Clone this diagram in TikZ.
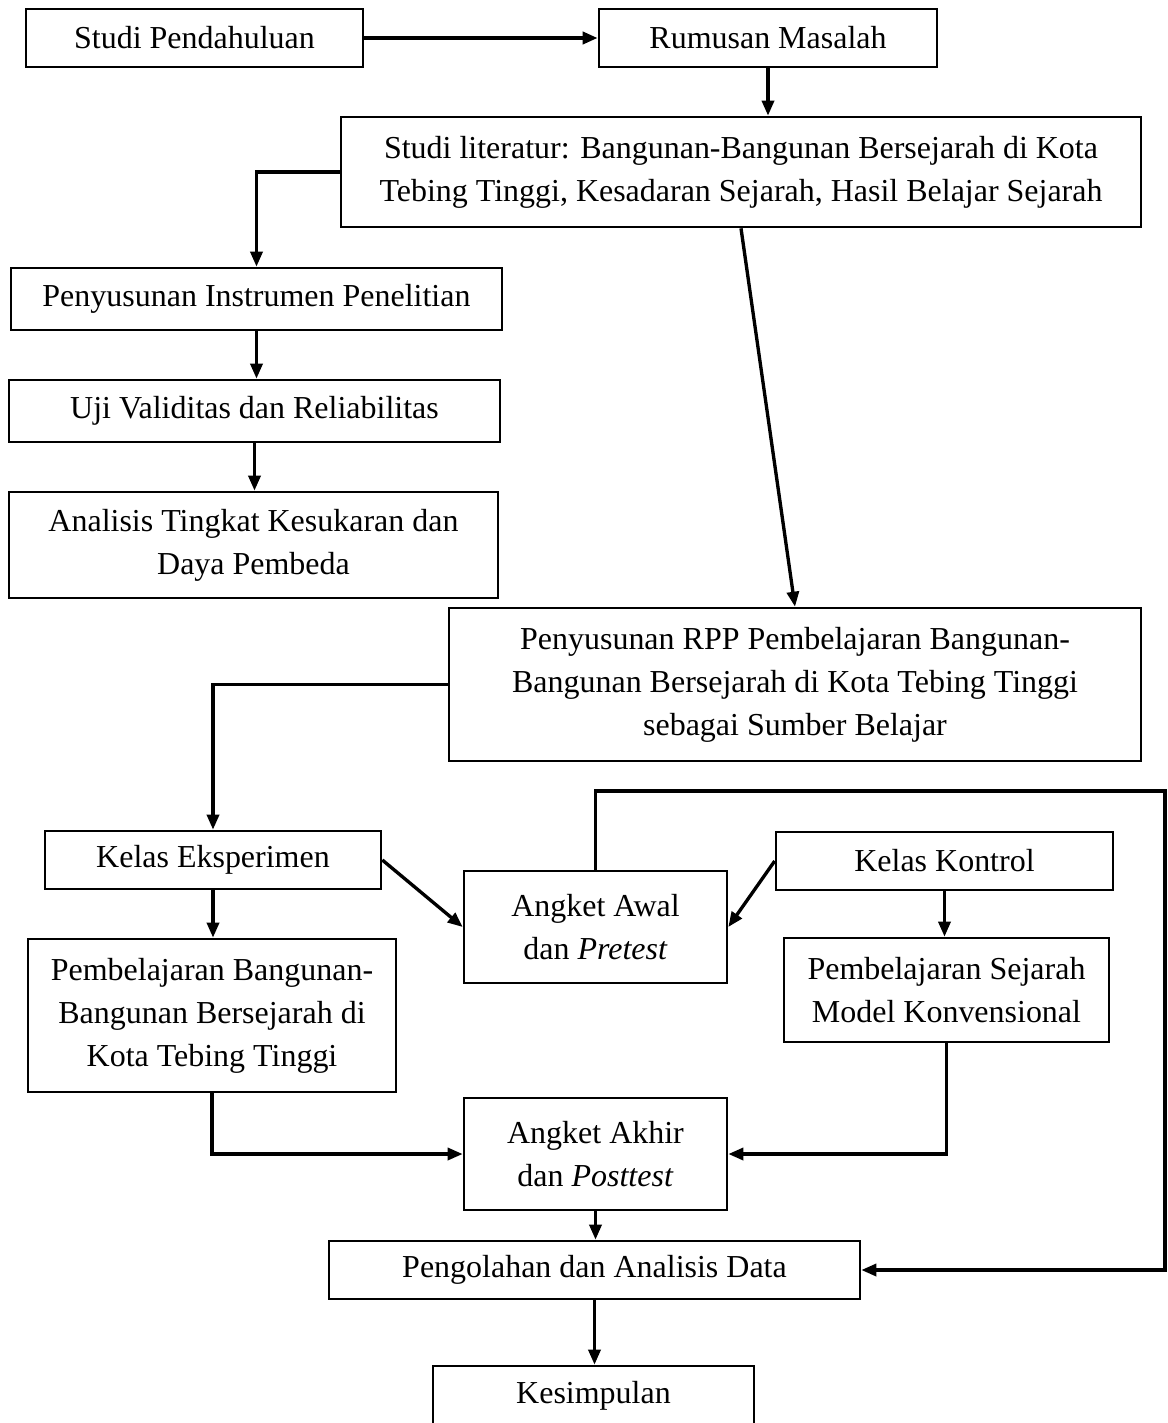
\documentclass[tikz,border=0pt]{standalone}
\usepackage{fontspec}
\setmainfont{Liberation Serif}
\usetikzlibrary{arrows.meta}

\begin{document}
\begin{tikzpicture}[x=0.02cm, y=-0.02cm,
  box/.style={shape=rectangle, draw=black, fill=white, line width=1.5pt,
    inner sep=0pt, align=center, font=\fontsize{18.2}{24.5}\selectfont},
  wh/.style 2 args={minimum width=#1*0.02cm, minimum height=#2*0.02cm},
  arr/.style={-{Triangle[length=0.3cm, width=0.24cm]}, line width=1.9pt},
  ]
        % alur penelitian
\useasboundingbox (0, 0) rectangle (1168, 1423);

\node[box, wh={337}{58}] at (194.5, 38)
(sp) {Studi Pendahuluan};

\node[box, wh={338}{58}] at (768, 38)
(rm) {Rumusan Masalah};

\node[box, wh={800}{110}] at (741, 172)
(sl) {Studi literatur: Bangunan-Bangunan Bersejarah di Kota\\Tebing Tinggi, Kesadaran Sejarah, Hasil Belajar Sejarah};

\node[box, wh={491}{62}] at (256.5, 299)
(pi) {Penyusunan Instrumen Penelitian};

\node[box, wh={491}{62}] at (254.5, 411)
(uv) {Uji Validitas dan Reliabilitas};

\node[box, wh={489}{106}] at (253.5, 545)
(at) {Analisis Tingkat Kesukaran dan\\Daya Pembeda};

\node[box, wh={692}{153}] at (795, 684.5)
(rpp) {Penyusunan RPP Pembelajaran Bangunan-\\Bangunan Bersejarah di Kota Tebing Tinggi\\sebagai Sumber Belajar};

\node[box, wh={336}{58}] at (213, 860)
(ke) {Kelas Eksperimen};

\node[box, wh={337}{58}] at (944.5, 861)
(kk) {Kelas Kontrol};

\node[box, wh={263}{112}] at (595.5, 927)
(aa) {Angket Awal\\dan \textit{Pretest}};

\node[box, wh={368}{153}] at (212, 1015.5)
(pb) {Pembelajaran Bangunan-\\Bangunan Bersejarah di\\Kota Tebing Tinggi};

\node[box, wh={325}{104}] at (946.5, 990)
(ps) {Pembelajaran Sejarah\\Model Konvensional};

\node[box, wh={263}{112}] at (595.5, 1154)
(ak) {Angket Akhir\\dan \textit{Posttest}};

\node[box, wh={531}{58}] at (594.5, 1270)
(pad) {Pengolahan dan Analisis Data};

\node[box, wh={321}{60}] at (593.5, 1396)
(kes) {Kesimpulan};

\coordinate (loop) at (1165, 791);

\draw[arr, line width=2.6pt] (sp.east) -- (rm.west);
\draw[arr] (rm.south) -- (rm.south |- sl.north);
\draw[arr] (sl.west) -| (pi.north);
\draw[arr] (pi.south) -- (pi.south |- uv.north);
\draw[arr] (uv.south) -- (uv.south |- at.north);
\draw[arr] (sl.south) -- (rpp.north);
\draw[arr] (rpp.west) -| (ke.north);
\draw[arr]
  (ke.south) -- (ke.south |- pb.north);
\draw[arr] (ke.east) -- (aa.west);
\draw[arr] (kk.west) -- (aa.east);
\draw[arr] (kk.south) -- (kk.south |- ps.north);
\draw[arr] (pb.south) |- (ak.west);
\draw[arr] (ps.south) |- (ak.east);
\draw[arr] (aa.north) |- (loop) |- (pad.east);
\draw[arr] (ak.south) -- (ak.south |- pad.north);
\draw[arr] (pad.south) -- (pad.south |- kes.north);
      \end{tikzpicture}
\end{document}
